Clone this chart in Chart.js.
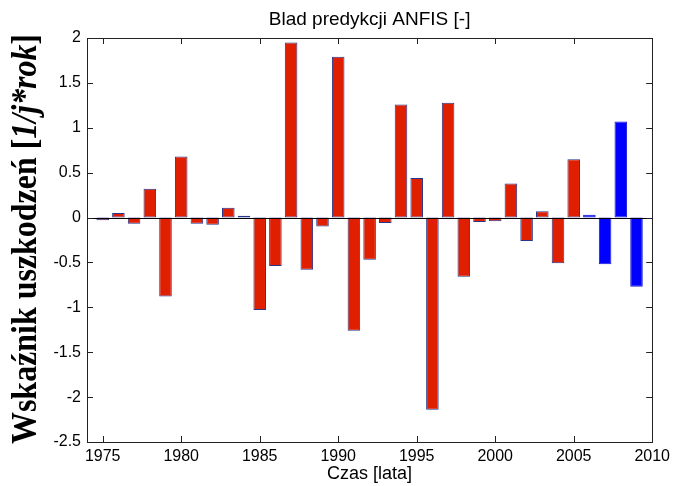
<!DOCTYPE html>
<html>
<head>
<meta charset="utf-8">
<title>Blad predykcji ANFIS</title>
<script src="https://cdn.jsdelivr.net/npm/chart.js@4.4.1/dist/chart.umd.min.js"></script>
<style>
    html, body { margin: 0; padding: 0; background: #fff; }
    #wrap { width: 675px; height: 486px; }
</style>
</head>
<body>
<div id="wrap"><canvas id="wykres" width="675" height="486"></canvas></div>
<script>
// lata i bledy - czesc uczaca (czerwone) i testowa (niebieskie)
const lataUczace = [1975, 1976, 1977, 1978, 1979, 1980, 1981, 1982, 1983, 1984,
    1985, 1986, 1987, 1988, 1989, 1990, 1991, 1992, 1993, 1994,
    1995, 1996, 1997, 1998, 1999, 2000, 2001, 2002, 2003, 2004, 2005];
const bledyUczace = [-0.03, 0.05, -0.07, 0.32, -0.88, 0.68, -0.07, -0.08, 0.11, 0.02,
    -1.03, -0.54, 1.95, -0.58, -0.10, 1.79, -1.26, -0.47, -0.06, 1.26,
    0.44, -2.14, 1.28, -0.66, -0.05, -0.04, 0.38, -0.26, 0.07, -0.51, 0.65];
const lataTestowe = [2006, 2007, 2008, 2009];
const bledyTestowe = [0.03, -0.52, 1.07, -0.77];

const xTicki = [1975, 1980, 1985, 1990, 1995, 2000, 2005, 2010];
const yTicki = [-2.5, -2, -1.5, -1, -0.5, 0, 0.5, 1, 1.5, 2];

const czcionka = 'Arial, "Liberation Sans", sans-serif';
const szeryf = '"Liberation Serif", "Times New Roman", serif';

// ramka, ticki do srodka, linia zera i napisy osi
const ramkaPlugin = {
    id: 'ramka',
    afterDatasetsDraw(chart) {
        const ctx = chart.ctx;
        const a = chart.chartArea;
        const sx = chart.scales.x, sy = chart.scales.y;
        ctx.save();
        // linia zera
        ctx.strokeStyle = '#000';
        ctx.lineWidth = 1;
        const y0 = Math.round(sy.getPixelForValue(0)) + 0.5;
        ctx.beginPath();
        ctx.moveTo(a.left, y0);
        ctx.lineTo(a.right, y0);
        ctx.stroke();
        // ramka
        ctx.strokeStyle = '#222';
        ctx.strokeRect(Math.round(a.left) + 0.5, Math.round(a.top) + 0.5,
            Math.round(a.right - a.left), Math.round(a.bottom - a.top));
        // ticki
        const dl = 6;
        ctx.beginPath();
        xTicki.forEach(v => {
            const x = Math.round(sx.getPixelForValue(v)) + 0.5;
            ctx.moveTo(x, a.bottom); ctx.lineTo(x, a.bottom - dl);
            ctx.moveTo(x, a.top); ctx.lineTo(x, a.top + dl);
        });
        yTicki.forEach(v => {
            const y = Math.round(sy.getPixelForValue(v)) + 0.5;
            ctx.moveTo(a.left, y); ctx.lineTo(a.left + dl, y);
            ctx.moveTo(a.right, y); ctx.lineTo(a.right - dl, y);
        });
        ctx.stroke();

        // tytul
        ctx.fillStyle = '#000';
        ctx.textAlign = 'center';
        ctx.textBaseline = 'alphabetic';
        ctx.font = '19px ' + czcionka;
        ctx.fillText('Blad predykcji ANFIS [-]', (a.left + a.right) / 2, 25);
        // opis osi x
        ctx.font = '18px ' + czcionka;
        ctx.fillText('Czas [lata]', (a.left + a.right) / 2, 479);

        // opis osi y - czesc pogrubiona, czesc kursywa
        const czesci = [
            { t: 'Wskaźnik uszkodzeń [', f: 'bold 35px ' + szeryf },
            { t: '1/j*rok', f: 'italic bold 35px ' + szeryf },
            { t: ']', f: 'bold 35px ' + szeryf }
        ];
        let suma = 0;
        czesci.forEach(c => { ctx.font = c.f; c.w = ctx.measureText(c.t).width; suma += c.w; });
        ctx.translate(36, 239);
        ctx.rotate(-Math.PI / 2);
        ctx.scale(410 / suma, 1);
        ctx.textAlign = 'left';
        let px = -suma / 2;
        czesci.forEach(c => { ctx.font = c.f; ctx.fillText(c.t, px, 0); px += c.w; });
        ctx.restore();
    }
};

const ctx = document.getElementById('wykres').getContext('2d');
new Chart(ctx, {
    type: 'bar',
    data: {
        datasets: [{
            label: 'uczace',
            data: lataUczace.map((r, i) => ({ x: r, y: bledyUczace[i] })),
            backgroundColor: '#e01e00',
            borderColor: '#26368c',
            borderWidth: 1,
            borderSkipped: false,
            barPercentage: 0.8,
            categoryPercentage: 1,
            grouped: false
        }, {
            label: 'testowe',
            data: lataTestowe.map((r, i) => ({ x: r, y: bledyTestowe[i] })),
            backgroundColor: '#0000ff',
            borderColor: '#1a1ad0',
            borderWidth: 1,
            borderSkipped: false,
            barPercentage: 0.8,
            categoryPercentage: 1,
            grouped: false
        }]
    },
    options: {
        responsive: false,
        animation: false,
        layout: { padding: { left: 0, right: 19, top: 38, bottom: 0 } },
        plugins: {
            legend: { display: false },
            tooltip: { enabled: false }
        },
        scales: {
            x: {
                type: 'linear',
                min: 1974,
                max: 2010,
                offset: false,
                grid: { display: false, drawTicks: false },
                border: { display: false },
                afterBuildTicks: s => { s.ticks = xTicki.map(v => ({ value: v })); },
                afterFit: s => { s.height = 44; },
                ticks: {
                    color: '#000',
                    padding: 5,
                    maxRotation: 0,
                    autoSkip: false,
                    font: { family: czcionka, size: 16 },
                    callback: v => String(v)
                }
            },
            y: {
                min: -2.5,
                max: 2,
                grid: { display: false, drawTicks: false },
                border: { display: false },
                afterBuildTicks: s => { s.ticks = yTicki.map(v => ({ value: v })); },
                afterFit: s => { s.width = 87; },
                ticks: {
                    color: '#000',
                    padding: 6,
                    autoSkip: false,
                    font: { family: czcionka, size: 16 },
                    callback: v => String(v)
                }
            }
        }
    },
    plugins: [ramkaPlugin]
});
</script>
</body>
</html>
